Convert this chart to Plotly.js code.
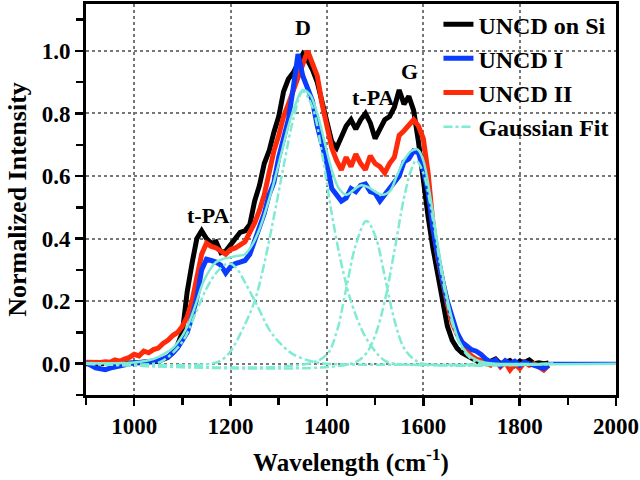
<!DOCTYPE html>
<html>
<head>
<meta charset="utf-8">
<script src="https://cdn.plot.ly/plotly-3.0.1.min.js"></script>
<style>html,body{margin:0;padding:0;background:#fff;}#chart{width:640px;height:480px;}</style>
</head>
<body>
<div id="chart"></div>
<script>
// Shared wavenumber grid for the measured spectra (cm^-1)
const wavenumber = [900,910,920,930,940,950,960,970,980,990,1000,1010,1020,1030,1040,1050,1060,1070,1080,1090,1100,1110,1120,1130,1140,1150,1160,1170,1180,1190,1200,1210,1220,1230,1240,1250,1260,1270,1280,1290,1300,1310,1320,1330,1340,1350,1360,1370,1380,1390,1400,1410,1420,1430,1440,1450,1460,1470,1480,1490,1500,1510,1520,1530,1540,1550,1560,1570,1580,1590,1600,1610,1620,1630,1640,1650,1660,1670,1680,1690,1700,1710,1720,1730,1740,1750,1760,1770,1780,1790,1800,1810,1820,1830,1840,1850,1860];

const uncdOnSi = [0,0,0,0,0,0,0.002,0,0.003,0.002,0.004,0.003,0.005,0.004,0.006,0.008,0.012,0.02,0.035,0.06,0.1,0.23,0.32,0.40,0.425,0.40,0.385,0.39,0.355,0.36,0.38,0.40,0.42,0.425,0.445,0.52,0.57,0.64,0.68,0.74,0.79,0.87,0.91,0.93,0.96,0.99,0.97,0.94,0.90,0.84,0.78,0.71,0.69,0.73,0.76,0.78,0.75,0.78,0.80,0.77,0.72,0.75,0.78,0.79,0.82,0.875,0.83,0.855,0.81,0.71,0.58,0.47,0.37,0.28,0.19,0.12,0.075,0.05,0.035,0.025,0.018,0.01,0.005,0.002,0.008,0.015,0,0.006,0.01,-0.005,0.008,0.004,0.012,0,0.003,0,0.002];

const uncdI = [0.003,-0.005,-0.013,-0.016,-0.019,-0.014,-0.01,-0.005,-0.002,0.002,0.003,0.004,0.005,0.006,0.007,0.01,0.015,0.022,0.034,0.05,0.075,0.1,0.15,0.21,0.3,0.334,0.33,0.325,0.315,0.29,0.31,0.32,0.325,0.33,0.35,0.39,0.44,0.48,0.54,0.58,0.66,0.72,0.78,0.88,0.99,0.92,0.88,0.84,0.76,0.70,0.64,0.56,0.54,0.52,0.53,0.56,0.55,0.57,0.575,0.55,0.545,0.52,0.54,0.56,0.575,0.6,0.645,0.655,0.68,0.675,0.62,0.55,0.43,0.34,0.265,0.2,0.145,0.1,0.07,0.055,0.045,0.04,0.03,0.015,0.005,0.012,-0.005,0.01,0,0.008,-0.005,0.005,0,-0.008,-0.012,-0.015,-0.005];

const uncdII = [0.005,0.004,0.005,0.004,0.006,0.005,0.012,0.008,0.015,0.02,0.03,0.025,0.04,0.035,0.045,0.05,0.065,0.075,0.09,0.1,0.12,0.15,0.2,0.27,0.35,0.385,0.375,0.37,0.36,0.35,0.365,0.37,0.38,0.39,0.42,0.45,0.49,0.54,0.61,0.68,0.73,0.79,0.83,0.87,0.91,0.95,1.0,0.96,0.92,0.83,0.75,0.69,0.65,0.62,0.66,0.63,0.67,0.64,0.62,0.665,0.64,0.63,0.61,0.64,0.66,0.73,0.745,0.765,0.78,0.76,0.72,0.61,0.45,0.34,0.26,0.19,0.13,0.095,0.07,0.04,0.025,0.015,0.01,0,-0.005,0.01,-0.01,0.005,-0.02,0,-0.015,0.005,-0.005,0,-0.01,-0.02,-0.005];

// Total Gaussian fit (solid)
const fitX = [900,1000,1040,1066,1080,1100,1116,1130,1143,1157,1170,1185,1200,1215,1230,1245,1260,1275,1290,1305,1320,1335,1350,1365,1380,1395,1410,1425,1440,1455,1470,1485,1500,1515,1530,1545,1560,1575,1588,1600,1615,1630,1645,1660,1675,1690,1710,1730,1750,2000];
const fitY = [0.002,0.004,0.015,0.035,0.05,0.09,0.14,0.2,0.26,0.30,0.325,0.335,0.34,0.345,0.35,0.38,0.43,0.5,0.58,0.67,0.76,0.83,0.875,0.86,0.80,0.71,0.62,0.56,0.54,0.555,0.57,0.565,0.55,0.54,0.55,0.6,0.65,0.68,0.685,0.65,0.53,0.38,0.245,0.14,0.07,0.035,0.012,0.003,0,0];

// Gaussian components (dash-dot)
const tpa1X = [900,1040,1060,1100,1130,1150,1170,1190,1200,1215,1230,1254,1280,1300,1330,1370,1400,1870];
const tpa1Y = [0,0,0.01,0.07,0.17,0.24,0.29,0.318,0.32,0.30,0.26,0.19,0.11,0.07,0.03,0.007,0,0];
const dX = [900,1160,1180,1200,1225,1250,1270,1290,1310,1330,1350,1370,1390,1410,1430,1450,1475,1500,1520,1540,1870];
const dY = [0,0,0.01,0.04,0.11,0.2,0.32,0.47,0.63,0.78,0.87,0.82,0.67,0.48,0.32,0.2,0.1,0.04,0.01,0,0];
const tpa2X = [900,1360,1400,1420,1440,1460,1482,1500,1520,1540,1560,1580,1600,1870];
const tpa2Y = [0,0,0.03,0.1,0.24,0.38,0.456,0.41,0.28,0.14,0.05,0.015,0,0];
const gX = [900,1450,1480,1500,1520,1540,1560,1575,1585,1600,1620,1640,1660,1680,1700,1720,1870];
const gY = [0,0,0.03,0.09,0.2,0.36,0.53,0.62,0.65,0.61,0.46,0.27,0.13,0.05,0.015,0,0];

const baseX = [1860, 2000];
const baseY = [0.003, 0.003];

const peakLabels = ['t-PA', 'D', 't-PA', 'G'];
const peakLabelX = [1153, 1350, 1495, 1572];
const peakLabelY = [0.475, 1.075, 0.85, 0.935];

const fitColor = '#7FEBD2';
const serif = 'Liberation Serif, Times New Roman, serif';

const traces = [
  {x: wavenumber, y: uncdOnSi, name: 'UNCD on Si', mode: 'lines', line: {color: '#000000', width: 5}, legendrank: 1},
  {x: wavenumber, y: uncdII, name: 'UNCD II', mode: 'lines', line: {color: '#FF2A0A', width: 5}, legendrank: 3},
  {x: wavenumber, y: uncdI, name: 'UNCD I', mode: 'lines', line: {color: '#0A3CFF', width: 5}, legendrank: 2},
  {x: baseX, y: baseY, mode: 'lines', line: {color: '#0A3CFF', width: 2}, showlegend: false, hoverinfo: 'skip'},
  {x: tpa1X, y: tpa1Y, name: 'Gaussian Fit', mode: 'lines', line: {color: fitColor, width: 2.5, dash: 'dashdot', shape: 'spline'}, legendrank: 4},
  {x: dX, y: dY, mode: 'lines', line: {color: fitColor, width: 2.5, dash: 'dashdot', shape: 'spline'}, showlegend: false},
  {x: tpa2X, y: tpa2Y, mode: 'lines', line: {color: fitColor, width: 2.5, dash: 'dashdot', shape: 'spline'}, showlegend: false},
  {x: gX, y: gY, mode: 'lines', line: {color: fitColor, width: 2.5, dash: 'dashdot', shape: 'spline'}, showlegend: false},
  {x: fitX, y: fitY, mode: 'lines', line: {color: fitColor, width: 2.5, shape: 'spline'}, showlegend: false}
];

const annotations = peakLabels.map((t, i) => ({
  x: peakLabelX[i], y: peakLabelY[i], text: t, showarrow: false,
  font: {family: serif, size: 22, color: '#000', weight: 'bold'}
}));

const layout = {
  width: 640, height: 480,
  margin: {l: 86, r: 24, t: 2, b: 85},
  paper_bgcolor: '#fff', plot_bgcolor: '#fff',
  showlegend: true,
  legend: {x: 0.665, y: 1.005, xanchor: 'left', yanchor: 'top', bgcolor: 'rgba(0,0,0,0)',
           font: {family: serif, size: 24, color: '#000', weight: 'bold'}},
  xaxis: {
    range: [900, 2000], tickvals: [1000, 1200, 1400, 1600, 1800, 2000],
    ticks: 'outside', ticklen: 8, tickwidth: 2.5, tickcolor: '#000',
    minor: {tickvals: [900, 1100, 1300, 1500, 1700, 1900], ticks: 'outside', ticklen: 7, tickwidth: 2.5, tickcolor: '#000', showgrid: false},
    showline: true, linewidth: 3, linecolor: '#000', mirror: true,
    showgrid: true, gridcolor: '#777', griddash: 'dot', gridwidth: 2,
    zeroline: false,
    tickfont: {family: serif, size: 23, color: '#000', weight: 'bold'},
    title: {text: 'Wavelength (cm<sup>-1</sup>)', standoff: 16, font: {family: serif, size: 25, color: '#000', weight: 'bold'}}
  },
  yaxis: {
    range: [-0.1, 1.15], tickvals: [0, 0.2, 0.4, 0.6, 0.8, 1.0], tickformat: '.1f',
    ticks: 'outside', ticklen: 8, tickwidth: 2.5, tickcolor: '#000',
    minor: {tickvals: [-0.1, 0.1, 0.3, 0.5, 0.7, 0.9, 1.1], ticks: 'outside', ticklen: 7, tickwidth: 2.5, tickcolor: '#000', showgrid: false},
    showline: true, linewidth: 3, linecolor: '#000', mirror: true,
    showgrid: true, gridcolor: '#777', griddash: 'dot', gridwidth: 2,
    zeroline: false,
    tickfont: {family: serif, size: 23, color: '#000', weight: 'bold'},
    title: {text: 'Normalized Intensity', standoff: 8, font: {family: serif, size: 26, color: '#000', weight: 'bold'}}
  },
  annotations: annotations
};

Plotly.newPlot('chart', traces, layout, {displayModeBar: false, staticPlot: true});
</script>
</body>
</html>
